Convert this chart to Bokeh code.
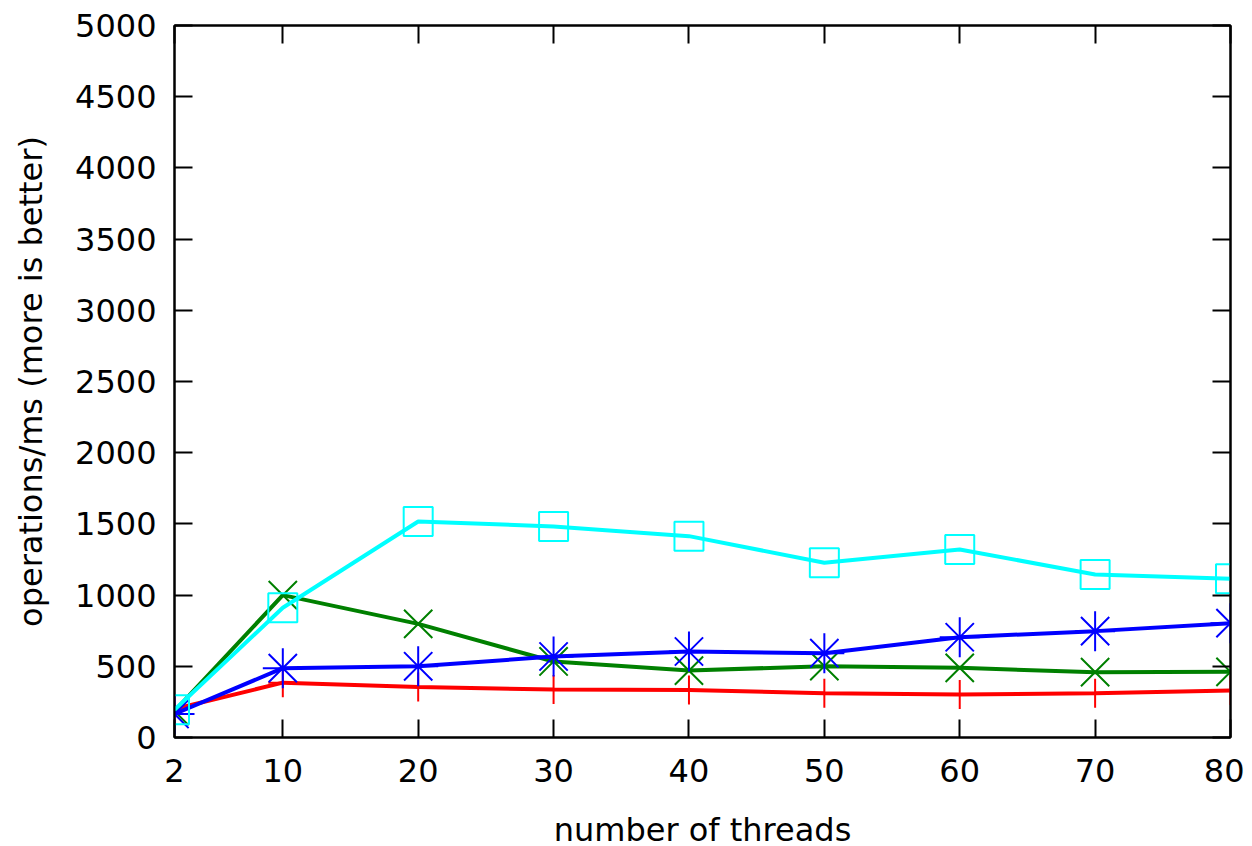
from bokeh.plotting import figure
from bokeh.models import FixedTicker, LinearAxis, Range1d
from bokeh.embed import file_html
from bokeh.resources import INLINE

threads = [2, 10, 20, 30, 40, 50, 60, 70, 80]
red_vals = [200, 385, 355, 337, 333, 311, 302, 311, 330]
green_vals = [185, 1000, 798, 534, 470, 501, 489, 459, 461]
blue_vals = [165, 487, 500, 569, 604, 592, 704, 747, 803]
cyan_vals = [194, 911, 1517, 1482, 1414, 1227, 1320, 1145, 1114]
x_ticks = [2, 10, 20, 30, 40, 50, 60, 70, 80]
y_ticks = [0, 500, 1000, 1500, 2000, 2500, 3000, 3500, 4000, 4500, 5000]

FONT = "DejaVu Sans"
FS = "32px"

p = figure(frame_width=1056, frame_height=712, output_backend="svg",
           toolbar_location=None, x_range=Range1d(2, 80), y_range=Range1d(0, 5000),
           min_border_left=174, min_border_right=14, min_border_top=25,
           min_border_bottom=20, x_axis_label="number of threads",
           y_axis_label="operations/ms (more is better)")
p.grid.visible = False
p.outline_line_color = "black"
p.outline_line_width = 2
p.background_fill_color = "white"
p.border_fill_color = "white"

for ax, ticks in ((p.xaxis[0], x_ticks), (p.yaxis[0], y_ticks)):
    ax.ticker = FixedTicker(ticks=ticks)
    ax.major_tick_in = 18
    ax.major_tick_out = 0
    ax.minor_tick_line_color = None
    ax.axis_line_width = 2
    ax.major_tick_line_width = 2
    ax.major_label_text_font = FONT
    ax.major_label_text_font_size = FS
    ax.major_label_text_color = "black"
    ax.axis_label_text_font = FONT
    ax.axis_label_text_font_size = FS
    ax.axis_label_text_font_style = "normal"
    ax.axis_label_text_color = "black"

p.xaxis[0].major_label_standoff = 21
p.xaxis[0].axis_label_standoff = 26
p.yaxis[0].major_label_standoff = 18
p.yaxis[0].axis_label_standoff = 22

top = LinearAxis(ticker=FixedTicker(ticks=x_ticks),
                 major_label_overrides={t: "" for t in x_ticks})
right = LinearAxis(ticker=FixedTicker(ticks=y_ticks),
                   major_label_overrides={t: "" for t in y_ticks})
for ax in (top, right):
    ax.major_tick_in = 18
    ax.major_tick_out = 0
    ax.minor_tick_line_color = None
    ax.axis_line_width = 2
    ax.major_tick_line_width = 2
    ax.major_label_text_font_size = "2px"
    ax.major_label_standoff = 0
p.add_layout(top, "above")
p.add_layout(right, "right")

series = [
    (red_vals, "#ff0000", "cross", 29),
    (green_vals, "#008000", "x", 40),
    (blue_vals, "#0000ff", "asterisk", 40),
    (cyan_vals, "#00ffff", "square", 29),
]
for vals, color, marker, sz in series:
    p.line(threads, vals, line_color=color, line_width=4)
    p.scatter(threads, vals, marker=marker, size=sz, line_color=color,
              fill_color=None, line_width=2)

open("out.html", "w").write(file_html(p, INLINE))
